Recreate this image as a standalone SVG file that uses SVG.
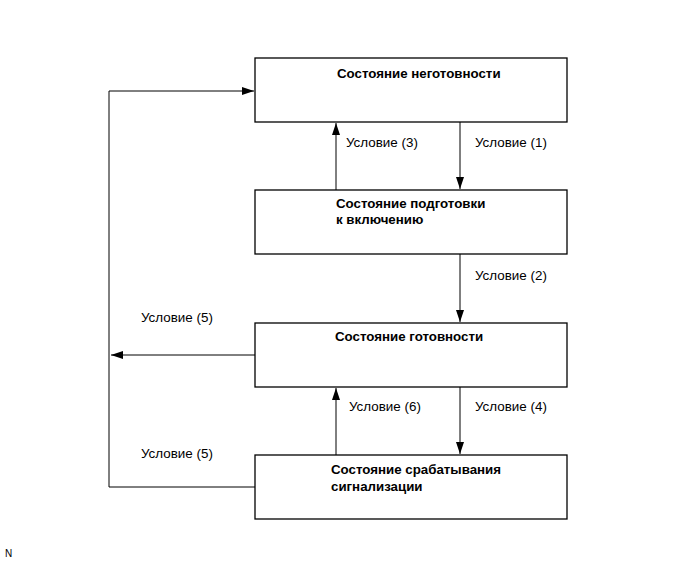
<svg xmlns="http://www.w3.org/2000/svg" width="690" height="562" viewBox="0 0 690 562">
<style>
.box{fill:#fff;stroke:#000;stroke-width:1.3}
.t{font-family:"Liberation Sans",Arial,sans-serif;font-size:13.3px;font-weight:bold;fill:#000}
.l{font-family:"Liberation Sans",Arial,sans-serif;font-size:13.4px;fill:#000}
.c{fill:none;stroke:#000;stroke-width:1}
</style>
<defs>
<marker id="a" viewBox="0 0 12 8" refX="12" refY="4" markerWidth="12" markerHeight="8" markerUnits="userSpaceOnUse" orient="auto">
<path d="M0,0 L12,4 L0,8 Z" fill="#000"/>
</marker>
</defs>
<rect width="690" height="562" fill="#fff"/>
<g id="connectors">
<path class="c" d="M255,487 H109 V91 H254" marker-end="url(#a)"/>
<path class="c" d="M255,355 H111" marker-end="url(#a)"/>
<path class="c" d="M336,190 V123" marker-end="url(#a)"/>
<path class="c" d="M460,122 V189" marker-end="url(#a)"/>
<path class="c" d="M460,254 V322" marker-end="url(#a)"/>
<path class="c" d="M336,455 V388" marker-end="url(#a)"/>
<path class="c" d="M460,387 V454" marker-end="url(#a)"/>
<text class="l" x="346" y="147">Условие (3)</text>
<text class="l" x="475" y="147">Условие (1)</text>
<text class="l" x="475" y="280">Условие (2)</text>
<text class="l" x="141" y="322">Условие (5)</text>
<text class="l" x="141" y="458">Условие (5)</text>
<text class="l" x="349" y="411">Условие (6)</text>
<text class="l" x="475" y="411">Условие (4)</text>
</g>
<g id="n1">
<rect class="box" x="255" y="58" width="312" height="64"/>
<text class="t" x="337" y="78">Состояние неготовности</text>
</g>
<g id="n2">
<rect class="box" x="255" y="190" width="312" height="64"/>
<text class="t" x="336" y="208">Состояние подготовки</text>
<text class="t" x="336" y="224">к включению</text>
</g>
<g id="n3">
<rect class="box" x="255" y="323" width="312" height="64"/>
<text class="t" x="335" y="341">Состояние готовности</text>
</g>
<g id="n4">
<rect class="box" x="255" y="455" width="312" height="64"/>
<text class="t" x="331" y="474">Состояние срабатывания</text>
<text class="t" x="331" y="491">сигнализации</text>
</g>
<text x="5" y="557" style="font-family:'Liberation Sans',Arial,sans-serif;font-size:10px;fill:#000">N</text>
</svg>
